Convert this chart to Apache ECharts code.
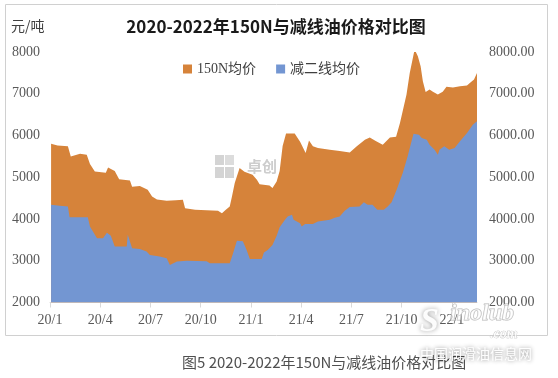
<!DOCTYPE html>
<html>
<head>
<meta charset="utf-8">
<script src="https://cdn.jsdelivr.net/npm/echarts@6/dist/echarts.min.js"></script>
<style>
  html, body { margin: 0; padding: 0; background: #fff; }
  #chart { width: 558px; height: 378px; }
</style>
</head>
<body>
<div id="chart"></div>
<script>
// 150N均价
var dates150 = ['2020-01-03','2020-01-15','2020-02-03','2020-02-08','2020-02-24','2020-03-07','2020-03-13','2020-03-22',
  '2020-04-11','2020-04-15','2020-04-27','2020-05-05','2020-05-25','2020-05-29','2020-06-12','2020-06-26',
  '2020-07-04','2020-07-13','2020-07-31','2020-08-17','2020-08-30','2020-09-03','2020-09-21','2020-10-12',
  '2020-11-02','2020-11-09','2020-11-16','2020-11-23','2020-11-27','2020-12-02','2020-12-11','2020-12-20',
  '2021-01-04','2021-01-12','2021-01-17','2021-02-04','2021-02-09','2021-02-16','2021-02-21','2021-02-26',
  '2021-03-04','2021-03-20','2021-03-30','2021-04-09','2021-04-11','2021-04-15','2021-04-22','2021-05-01',
  '2021-05-23','2021-06-10','2021-06-28','2021-07-11','2021-07-26','2021-08-04','2021-08-15','2021-08-28',
  '2021-09-10','2021-09-21','2021-09-28','2021-10-10','2021-10-16','2021-10-25','2021-10-31','2021-11-05',
  '2021-11-09','2021-11-14','2021-11-21','2021-11-27','2021-12-06','2021-12-15','2021-12-22','2022-01-03',
  '2022-01-16','2022-01-29','2022-02-03','2022-02-10','2022-02-15'];
var price150 = [5800,5760,5740,5500,5560,5540,5320,5140,
  5110,5235,5150,4950,4920,4770,4790,4700,
  4540,4470,4440,4450,4460,4260,4220,4210,
  4200,4140,4220,4300,4540,4860,5220,5130,
  5060,4940,4830,4800,4740,4900,5150,5750,
  6050,6050,5850,5580,5540,5880,5740,5700,
  5660,5630,5590,5740,5900,5950,5870,5780,
  5950,5970,6300,6980,7500,8060,7900,7660,
  7300,7040,7100,7050,6980,7050,7170,7150,
  7180,7200,7260,7340,7500];

// 减二线均价
var datesJ = ['2020-01-03','2020-01-19','2020-02-03','2020-02-06','2020-03-09','2020-03-13','2020-03-26','2020-04-06',
  '2020-04-13','2020-04-20','2020-04-27','2020-05-19','2020-05-21','2020-05-29','2020-06-12','2020-06-24',
  '2020-06-30','2020-07-18','2020-07-31','2020-08-06','2020-08-19','2020-09-06','2020-10-12','2020-10-18',
  '2020-11-23','2020-11-29','2020-12-06','2020-12-17','2020-12-24','2020-12-30','2021-01-21','2021-01-25',
  '2021-02-01','2021-02-09','2021-02-16','2021-02-21','2021-03-02','2021-03-07','2021-03-15','2021-03-18',
  '2021-03-30','2021-04-02','2021-04-08','2021-04-22','2021-05-01','2021-05-23','2021-06-01','2021-06-10',
  '2021-06-19','2021-06-28','2021-07-16','2021-07-24','2021-07-31','2021-08-09','2021-08-18','2021-08-30',
  '2021-09-06','2021-09-13','2021-09-22','2021-10-03','2021-10-12','2021-10-20','2021-10-23','2021-11-02',
  '2021-11-07','2021-11-16','2021-11-21','2021-11-30','2021-12-06','2021-12-09','2021-12-18','2021-12-27',
  '2022-01-06','2022-01-16','2022-01-29','2022-02-08','2022-02-15'];
var priceJ = [4340,4320,4300,4040,4040,3820,3540,3540,
  3670,3600,3340,3340,3620,3300,3280,3220,
  3140,3100,3060,2900,2980,3000,2990,2940,
  2940,3180,3480,3470,3260,3040,3040,3200,
  3260,3380,3600,3800,3980,4060,4100,3980,
  3900,3820,3880,3880,3940,3980,4030,4060,
  4200,4290,4300,4400,4340,4340,4220,4220,
  4300,4400,4700,5100,5500,5900,6040,6020,
  5940,5900,5780,5660,5540,5660,5740,5660,
  5700,5860,6060,6260,6340];

var tickDates = ['2020-01-01','2020-04-01','2020-07-01','2020-10-01','2021-01-01','2021-04-01','2021-07-01','2021-10-01','2022-01-01'];
var tickLabels = ['20/1','20/4','20/7','20/10','21/1','21/4','21/7','21/10','22/1'];
var yTicks = [2000, 3000, 4000, 5000, 6000, 7000, 8000];

// 日期 -> 以2020年1月为0的月份位置
function monthPos(s) {
    var p = s.split('-');
    var y = +p[0], m = +p[1], d = +p[2];
    var dim = new Date(y, m, 0).getDate();
    return (y - 2020) * 12 + (m - 1) + (d - 1) / dim;
}
function pairs(dates, vals) {
    return dates.map(function (d, i) { return [monthPos(d), vals[i]]; });
}

var tickPos = tickDates.map(monthPos);
var xMax = monthPos(dates150[dates150.length - 1]);
var numFont = "'Liberation Serif', 'Noto Sans CJK SC', serif";
var cjkFont = "'Liberation Serif', 'Noto Sans CJK SC', sans-serif";

var chart = echarts.init(document.getElementById('chart'));
chart.setOption({
    animation: false,
    grid: { left: 50, right: 81, top: 52, bottom: 75.5 },
    legend: {
        left: 178, top: 57,
        icon: 'rect', itemWidth: 9, itemHeight: 9, itemGap: 20,
        textStyle: { fontFamily: cjkFont, fontSize: 14, color: '#404040' },
        data: ['150N均价', '减二线均价']
    },
    xAxis: {
        type: 'value', min: 0, max: xMax,
        splitLine: { show: false },
        axisLine: { show: true, lineStyle: { color: '#d9d9d9' } },
        axisTick: { show: true, length: 5, customValues: tickPos, lineStyle: { color: '#d9d9d9' } },
        axisLabel: {
            customValues: tickPos, margin: 11,
            fontFamily: numFont, fontSize: 14, color: '#595959',
            formatter: function (v) {
                var i = tickPos.findIndex(function (t) { return Math.abs(t - v) < 0.01; });
                return i >= 0 ? tickLabels[i] : '';
            }
        }
    },
    yAxis: [{
        type: 'value', min: yTicks[0], max: yTicks[yTicks.length - 1], interval: 1000,
        splitLine: { show: false }, axisLine: { show: false }, axisTick: { show: false },
        axisLabel: {
            margin: 10, fontFamily: numFont, fontSize: 14, color: '#595959',
            formatter: function (v) { return String(v); }
        }
    }, {
        type: 'value', position: 'right', min: yTicks[0], max: yTicks[yTicks.length - 1], interval: 1000,
        splitLine: { show: false }, axisLine: { show: false }, axisTick: { show: false },
        axisLabel: {
            margin: 12, fontFamily: numFont, fontSize: 14, color: '#595959',
            formatter: function (v) { return v.toFixed(2); }
        }
    }],
    graphic: [
        { type: 'rect', z: -10, shape: { x: 5.5, y: 4.5, width: 542, height: 331 },
          style: { fill: null, stroke: '#d0d0d0', lineWidth: 1 } },
        { type: 'text', left: 11, top: 19,
          style: { text: '元/吨', font: "14px 'Noto Sans CJK SC'", fill: '#404040' } },
        { type: 'text', x: 276, y: 27,
          style: { text: '2020-2022年150N与减线油价格对比图', font: "bold 17px 'Noto Sans CJK SC'",
                   fill: '#1a1a1a', textAlign: 'center', textVerticalAlign: 'middle' } },
        { type: 'text', x: 182, y: 362,
          style: { text: '图5 2020-2022年150N与减线油价格对比图', font: "15px 'Noto Sans CJK SC'",
                   fill: '#505050', textVerticalAlign: 'middle' } },
        // 卓创 水印
        { type: 'group', z: -5, children: [
            { type: 'rect', shape: { x: 215, y: 155, width: 9, height: 10 }, style: { fill: '#d4d4d4' } },
            { type: 'rect', shape: { x: 225, y: 155, width: 9, height: 10 }, style: { fill: '#dcdcdc' } },
            { type: 'rect', shape: { x: 215, y: 167, width: 9, height: 11 }, style: { fill: '#d4d4d4' } },
            { type: 'rect', shape: { x: 225, y: 167, width: 9, height: 11 }, style: { fill: '#d4d4d4' } },
            { type: 'text', x: 247, y: 166, style: { text: '卓创', font: "bold 15px 'Noto Sans CJK SC'",
              fill: '#cdcdcd', textVerticalAlign: 'middle' } }
        ]},
        // Sinolub 水印
        { type: 'text', x: 420, y: 322, z: 100,
          style: { text: 'S', font: "italic bold 34px 'Liberation Serif'", fill: 'rgba(255,255,255,0.95)',
                   textVerticalAlign: 'middle', textShadowColor: 'rgba(0,0,0,0.45)', textShadowBlur: 5 } },
        { type: 'text', x: 450, y: 314, z: 100,
          style: { text: 'inolub', font: "italic bold 24px 'Liberation Serif'", fill: 'rgba(255,255,255,0.6)',
                   stroke: 'rgba(150,150,150,0.7)', lineWidth: 1, textVerticalAlign: 'middle' } },
        { type: 'text', x: 490, y: 334, z: 100,
          style: { text: '.com', font: "italic bold 14px 'Liberation Serif'", fill: 'rgba(255,255,255,0.8)',
                   stroke: 'rgba(150,150,150,0.7)', lineWidth: 0.6, textVerticalAlign: 'middle' } },
        { type: 'text', x: 420, y: 354, z: 100,
          style: { text: '中国润滑油信息网', font: "14px 'Noto Sans CJK SC'", fill: 'rgba(255,255,255,0.95)',
                   textVerticalAlign: 'middle', textShadowColor: 'rgba(0,0,0,0.5)', textShadowBlur: 4 } }
    ],
    series: [{
        name: '150N均价', type: 'line', showSymbol: false, color: '#D6833A',
        lineStyle: { width: 0 }, areaStyle: { color: '#D6833A', opacity: 1, origin: 'start' },
        data: pairs(dates150, price150)
    }, {
        name: '减二线均价', type: 'line', showSymbol: false, color: '#7396D2',
        lineStyle: { width: 0 }, areaStyle: { color: '#7396D2', opacity: 1, origin: 'start' },
        data: pairs(datesJ, priceJ)
    }]
});
</script>
</body>
</html>
